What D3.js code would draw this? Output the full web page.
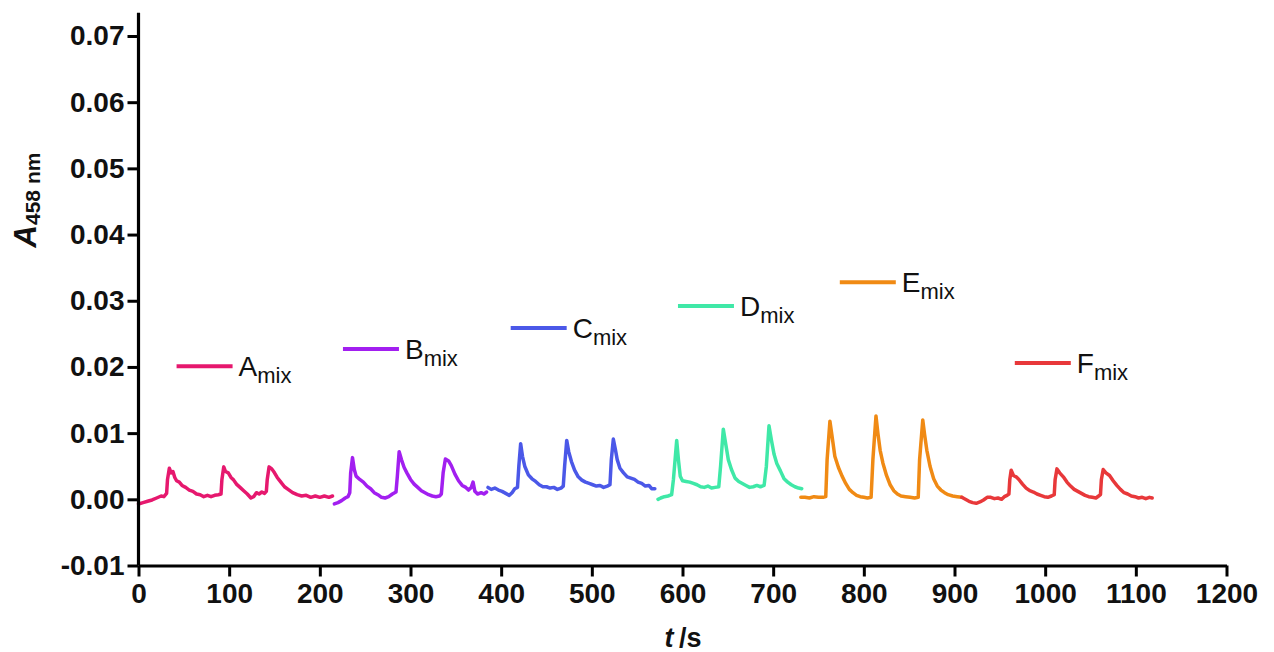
<!DOCTYPE html>
<html><head><meta charset="utf-8">
<script src="https://cdn.jsdelivr.net/npm/d3@7/dist/d3.min.js"></script>
<style>body{margin:0;background:#fff}svg{display:block}</style>
</head><body><svg id="c" width="1274" height="652"></svg>
<script>
// ---- data (t in s, absorbance) ----
const seriesNames = ["A","B","C","D","E","F"];
const seriesColors = ["#e6186e","#a21ff0","#4b58e8","#3fe8a7","#f08a14","#e8383a"];
const xTicks = [0,100,200,300,400,500,600,700,800,900,1000,1100,1200];
const yTicks = [-0.01,0.00,0.01,0.02,0.03,0.04,0.05,0.06,0.07];
const yTickLabels = ["-0.01","0.00","0.01","0.02","0.03","0.04","0.05","0.06","0.07"];

const A = [[0,-0.0007],[5,-0.0005],[10,-0.0003],[15,-0.0001],[20,0.0002],[25,0.0005],[28,0.0004],[31,0.0009],[32,0.0030],[34,0.0047],[36,0.0040],[38,0.0042],[40,0.0033],[42,0.0028],[45,0.0026],[48,0.0021],[52,0.0018],[56,0.0014],[60,0.0012],[64,0.0008],[68,0.0007],[72,0.0004],[76,0.0006],[80,0.0004],[84,0.0006],[88,0.0007],[91,0.0008],[92,0.0030],[94,0.0049],[96,0.0042],[99,0.0040],[102,0.0033],[105,0.0029],[108,0.0023],[112,0.0018],[116,0.0013],[120,0.0008],[124,0.0002],[127,0.0004],[130,0.0010],[133,0.0008],[136,0.0011],[139,0.0009],[141,0.0012],[142,0.0030],[144,0.0049],[147,0.0046],[150,0.0040],[153,0.0033],[157,0.0026],[161,0.0019],[165,0.0015],[170,0.0010],[175,0.0007],[180,0.0005],[185,0.0006],[190,0.0003],[195,0.0005],[200,0.0003],[205,0.0005],[210,0.0003],[214,0.0005]];
const B = [[216,-0.0007],[220,-0.0005],[224,-0.0002],[228,0.0002],[231,0.0004],[233,0.0010],[234,0.0040],[236,0.0063],[238,0.0045],[240,0.0035],[244,0.0030],[248,0.0026],[252,0.0020],[256,0.0016],[260,0.0010],[264,0.0007],[268,0.0003],[272,0.0002],[276,0.0004],[280,0.0008],[284,0.0011],[285.5,0.0035],[287.5,0.0072],[290,0.0060],[293,0.0048],[296,0.0040],[300,0.0030],[304,0.0023],[308,0.0018],[312,0.0013],[316,0.0010],[320,0.0007],[324,0.0005],[328,0.0004],[332,0.0005],[334,0.0008],[336,0.0040],[338.5,0.0061],[342,0.0058],[345,0.0051],[349,0.0038],[353,0.0028],[357,0.0021],[361,0.0018],[364,0.0014],[367,0.0018],[369,0.0026],[371,0.0012],[374,0.0008],[378,0.0010],[381,0.0008],[384,0.0011]];
const C = [[385.5,0.0018],[389,0.0015],[393,0.0017],[397,0.0014],[401,0.0012],[405,0.0009],[409,0.0006],[412,0.0010],[415,0.0016],[418,0.0018],[419.5,0.0050],[421.5,0.0084],[423.5,0.0065],[426,0.0050],[430,0.0037],[434,0.0031],[438,0.0027],[442,0.0022],[446,0.0019],[450,0.0019],[454,0.0017],[458,0.0018],[462,0.0015],[466,0.0017],[468.5,0.0020],[470,0.0050],[472.3,0.0089],[474.5,0.0072],[477.5,0.0057],[481,0.0044],[485,0.0034],[489,0.0029],[493,0.0026],[497,0.0024],[501,0.0022],[505,0.0020],[509,0.0021],[513,0.0018],[517,0.0020],[520,0.0022],[521.5,0.0060],[523.7,0.0091],[526,0.0075],[528,0.0060],[531,0.0047],[535,0.0040],[539,0.0034],[543,0.0032],[547,0.0030],[551,0.0026],[555,0.0024],[559,0.0020],[563,0.0021],[566,0.0016],[569.5,0.0016]];
const D = [[573,0.0000],[576,0.0002],[580,0.0004],[584,0.0005],[588,0.0007],[590,0.0030],[593.6,0.0089],[595.5,0.0060],[597.5,0.0035],[600,0.0028],[604,0.0027],[608,0.0026],[612,0.0024],[616,0.0022],[620,0.0019],[624,0.0018],[628,0.0020],[632,0.0017],[636,0.0018],[640,0.0019],[642,0.0050],[645,0.0106],[647.5,0.0085],[650.5,0.0060],[654,0.0045],[658,0.0032],[662,0.0027],[666,0.0024],[670,0.0021],[674,0.0018],[678,0.0019],[682,0.0021],[686,0.0019],[690,0.0021],[692.5,0.0050],[695.4,0.0111],[698,0.0090],[701,0.0068],[704,0.0054],[708,0.0043],[712,0.0031],[716,0.0026],[720,0.0022],[724,0.0019],[728,0.0017],[731.5,0.0016]];
const E = [[730.5,0.0003],[735,0.0003],[740,0.0002],[745,0.0004],[750,0.0003],[755,0.0003],[758,0.0004],[759.5,0.0060],[762.6,0.0118],[765,0.0095],[768,0.0065],[772,0.0048],[776,0.0035],[780,0.0024],[784,0.0015],[788,0.0010],[792,0.0006],[796,0.0004],[800,0.0003],[804,0.0002],[808,0.0003],[810,0.0060],[813.4,0.0126],[815.5,0.0100],[818,0.0074],[821,0.0055],[825,0.0036],[829,0.0022],[833,0.0013],[837,0.0008],[841,0.0005],[846,0.0004],[851,0.0003],[856,0.0002],[860,0.0003],[861.5,0.0060],[865,0.0120],[867,0.0098],[869.5,0.0074],[873,0.0050],[877,0.0031],[881,0.0020],[885,0.0014],[889,0.0010],[893,0.0007],[898,0.0005],[903,0.0004],[908,0.0003]];
const F = [[908,0.0003],[912,0.0000],[916,-0.0003],[920,-0.0005],[924,-0.0006],[928,-0.0004],[932,-0.0001],[936,0.0003],[940,0.0003],[944,0.0001],[948,0.0002],[952,0.0000],[955,0.0004],[958,0.0006],[960,0.0008],[961,0.0030],[962.5,0.0044],[965,0.0036],[968,0.0034],[971,0.0030],[975,0.0023],[979,0.0017],[983,0.0013],[987,0.0011],[991,0.0008],[995,0.0006],[999,0.0004],[1003,0.0003],[1007,0.0005],[1010,0.0007],[1011,0.0030],[1013,0.0046],[1016,0.0040],[1020,0.0034],[1024,0.0026],[1028,0.0020],[1032,0.0015],[1036,0.0012],[1040,0.0009],[1044,0.0006],[1048,0.0004],[1052,0.0003],[1056,0.0002],[1059,0.0005],[1061,0.0007],[1062,0.0030],[1064,0.0045],[1067,0.0040],[1071,0.0036],[1075,0.0028],[1079,0.0021],[1083,0.0015],[1087,0.0010],[1091,0.0008],[1095,0.0005],[1099,0.0004],[1103,0.0002],[1107,0.0003],[1111,0.0001],[1115,0.0003],[1118,0.0002]];
const seriesData = [A,B,C,D,E,F];
// legend anchors in data space (t, absorbance)
const legendT = [42,225.5,410.5,595,773.5,966.5];
const legendA = [0.0201,0.0227,0.0259,0.0292,0.0328,0.0206];

// ---- layout ----
const svg = d3.select("#c");
const FONT = "'Liberation Sans', Arial, Helvetica, sans-serif";
const x = d3.scaleLinear().domain([0,1200]).range([138.5,1226.5]);
const y = d3.scaleLinear().domain([-0.01,0.07]).range([565.5,36]);
const yTop = 0.0735;

// lines
const line = d3.line().x(d=>x(d[0])).y(d=>y(d[1]));
seriesData.forEach((s,i)=>{
  svg.append("path").datum(s).attr("d",line)
    .attr("fill","none").attr("stroke",seriesColors[i])
    .attr("stroke-width",3.5).attr("stroke-linejoin","round").attr("stroke-linecap","round");
});

// axes
const xAxis = svg.append("g").attr("transform",`translate(0,${y(-0.01)})`)
  .call(d3.axisBottom(x).tickValues(xTicks).tickFormat(d3.format("d")).tickSize(11).tickPadding(7).tickSizeOuter(0));
const yAxis = svg.append("g").attr("transform",`translate(${x(0)},0)`)
  .call(d3.axisLeft(y).tickValues(yTicks).tickFormat((d,i)=>yTickLabels[i]).tickSize(11).tickPadding(3).tickSizeOuter(0));
yAxis.select(".domain").attr("d",`M0,${y(-0.01)}V${y(yTop)}`);
[xAxis,yAxis].forEach(g=>{
  g.select(".domain").attr("stroke","#000").attr("stroke-width",3.2);
  g.selectAll(".tick line").attr("stroke","#000").attr("stroke-width",3);
  g.selectAll(".tick text").attr("fill","#111").style("font-family",FONT)
    .style("font-size","28px").style("font-weight","bold");
});

// axis titles
const xt = svg.append("text").attr("x",683).attr("y",647).attr("text-anchor","middle")
  .style("font-family",FONT).style("font-size","27px").style("font-weight","bold").attr("fill","#111");
xt.append("tspan").style("font-style","italic").text("t");
xt.append("tspan").text("\u2009/s");

const yt = svg.append("text").attr("transform","translate(36,200) rotate(-90)")
  .attr("text-anchor","middle").style("font-family",FONT).style("font-weight","bold").attr("fill","#111");
yt.append("tspan").style("font-style","italic").style("font-size","31px").text("A");
yt.append("tspan").attr("dy",4).style("font-size","21px").text("458 nm");

// legend
seriesNames.forEach((n,i)=>{
  const lx = x(legendT[i]), ly = y(legendA[i]);
  svg.append("line").attr("x1",lx).attr("x2",lx+56).attr("y1",ly).attr("y2",ly)
    .attr("stroke",seriesColors[i]).attr("stroke-width",4);
  const t = svg.append("text").attr("x",lx+62).attr("y",ly+10)
    .style("font-family",FONT).attr("fill","#111");
  t.append("tspan").style("font-size","28px").text(n);
  t.append("tspan").attr("dy",7).style("font-size","22px").text("mix");
});
</script></body></html>
